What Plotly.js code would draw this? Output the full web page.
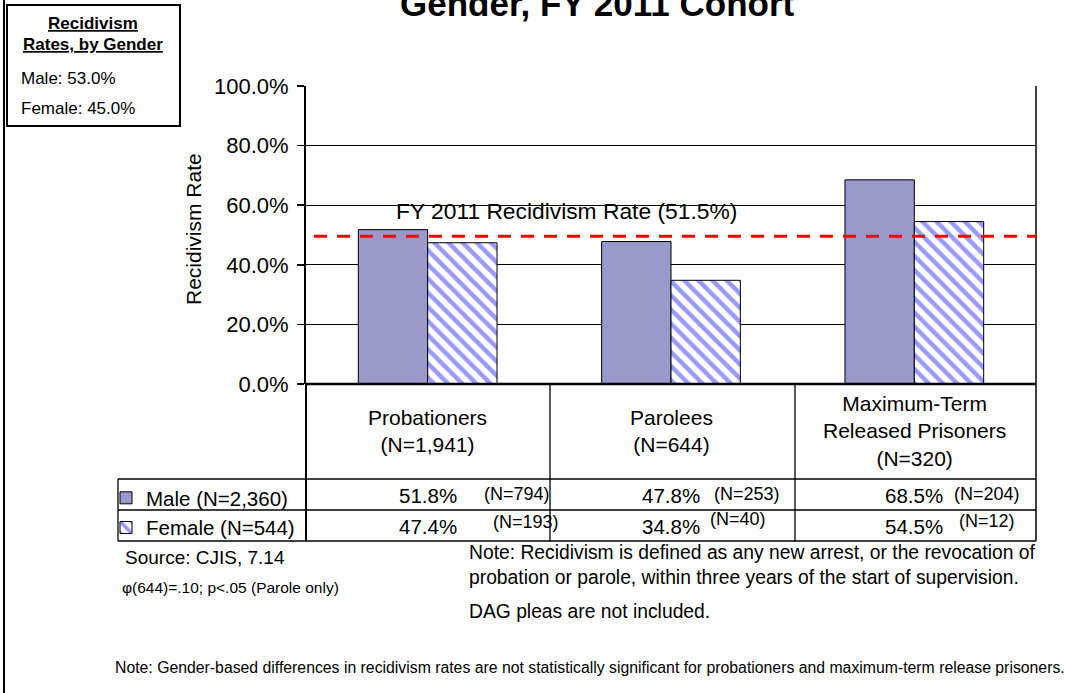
<!DOCTYPE html>
<html>
<head>
<meta charset="utf-8">
<script src="https://cdn.plot.ly/plotly-3.0.1.min.js"></script>
<style>html,body{margin:0;padding:0;background:#fff;}#chart{width:1067px;height:693px;}</style>
</head>
<body>
<div id="chart"></div>
<script>
// ---- data ----
const categories = ['Probationers', 'Parolees', 'Maximum-Term Released Prisoners'];
const categoryLabels = ['Probationers<br>(N=1,941)', 'Parolees<br>(N=644)', 'Maximum-Term<br>Released Prisoners<br>(N=320)'];
const seriesNames = ['Male (N=2,360)', 'Female (N=544)'];
const maleRates = [51.8, 47.8, 68.5];
const femaleRates = [47.4, 34.8, 54.5];
const maleN = ['(N=794)', '(N=253)', '(N=204)'];
const femaleN = ['(N=193)', '(N=40)', '(N=12)'];
const overallRate = 49.6;
const overallLabel = 'FY 2011 Recidivism Rate (51.5%)';
const yTicks = [0, 20, 40, 60, 80, 100];
const yTickLabels = ['0.0%', '20.0%', '40.0%', '60.0%', '80.0%', '100.0%'];
const summaryTitle = ['Recidivism', 'Rates, by Gender'];
const summaryLines = ['Male: 53.0%', 'Female: 45.0%'];
const chartTitle = 'Gender, FY 2011 Cohort';
const sourceText = 'Source: CJIS, 7.14';
const statText = '\u03c6(644)=.10; p<.05 (Parole only)';
const noteLines = ['Note: Recidivism is defined as any new arrest, or the revocation of',
                   'probation or parole, within three years of the start of supervision.'];
const dagText = 'DAG pleas are not included.';
const bottomNote = 'Note: Gender-based differences in recidivism rates are not statistically significant for probationers and maximum-term release prisoners.';

// ---- layout helpers (pixel -> paper) ----
const L = 306, R = 1036, T = 86, B = 384;
const X = px => (px - L) / (R - L);
const Y = py => (B - py) / (B - T);
const FONT = 'Liberation Sans, Arial, Helvetica, sans-serif';

const traces = [
  {type: 'bar', name: seriesNames[0], x: categories, y: maleRates,
   marker: {color: '#9999cc', line: {color: '#000', width: 1}}, hoverinfo: 'skip'},
  {type: 'bar', name: seriesNames[1], x: categories, y: femaleRates,
   marker: {color: '#ffffff', line: {color: '#000', width: 1},
            pattern: {shape: '\\', fgcolor: '#9999ff', bgcolor: '#ffffff', size: 10, solidity: 0.45, fillmode: 'replace'}},
   hoverinfo: 'skip'}
];

const line = (x0, y0, x1, y1, w) => ({type: 'line', xref: 'paper', yref: 'paper',
  x0: X(x0), y0: Y(y0), x1: X(x1), y1: Y(y1), line: {color: '#000', width: w || 1.3}, layer: 'above'});

const shapes = [
  line(4, 0, 4, 693, 2),
  {type: 'rect', xref: 'paper', yref: 'paper', x0: X(7), x1: X(180), y0: Y(5), y1: Y(126),
   line: {color: '#000', width: 2}, fillcolor: 'rgba(0,0,0,0)'},
  line(R, T, R, 541, 1.5),
  line(L, B, L, 541, 2),
  line(L, B, R, B, 2.5),
  line(118, 479, R, 479, 1.3),
  line(118, 510, R, 510, 1.3),
  line(118, 541, R, 541, 1.5),
  line(118, 479, 118, 541, 1.3),
  line(550, B, 550, 541, 1.3),
  line(795, B, 795, 541, 1.3),
  {type: 'line', xref: 'paper', yref: 'y', x0: X(314), x1: 1, y0: overallRate, y1: overallRate,
   line: {color: '#ff0000', width: 3, dash: '13px,10px'}, layer: 'above'}
];

const ann = [];
const txt = (text, px, py, size, opts) => Object.assign({xref: 'paper', yref: 'paper', x: X(px), y: Y(py),
  text: text, showarrow: false, font: {family: FONT, size: size, color: '#000'}, xanchor: 'left', yanchor: 'middle'}, opts || {});

ann.push(txt('<b>' + chartTitle + '</b>', 597, 3, 35, {xanchor: 'center'}));
ann.push(txt('<b><u>' + summaryTitle[0] + '</u></b>', 93, 24, 17, {xanchor: 'center'}));
ann.push(txt('<b><u>' + summaryTitle[1] + '</u></b>', 93, 45, 17, {xanchor: 'center'}));
ann.push(txt(summaryLines[0], 19, 78, 17));
ann.push(txt(summaryLines[1], 19, 108, 17));
ann.push(txt(overallLabel, 566, 211, 22.8, {xanchor: 'center'}));
categories.forEach((c, i) => {
  ann.push({xref: 'x', yref: 'paper', x: c, y: Y(431), text: categoryLabels[i], showarrow: false,
            font: {family: FONT, size: 21, color: '#000'}, xanchor: 'center', yanchor: 'middle', align: 'center'});
});
const maleNShift = [54, 41, 38], femaleNShift = [63, 37, 43], femaleNRaise = [3, 6, 4];
categories.forEach((c, i) => {
  ann.push({xref: 'x', yref: 'paper', x: c, y: Y(495), xshift: 31, text: maleRates[i].toFixed(1) + '%',
            showarrow: false, font: {family: FONT, size: 20.5, color: '#000'}, xanchor: 'right', yanchor: 'middle'});
  ann.push({xref: 'x', yref: 'paper', x: c, y: Y(526), xshift: 31, text: femaleRates[i].toFixed(1) + '%',
            showarrow: false, font: {family: FONT, size: 20.5, color: '#000'}, xanchor: 'right', yanchor: 'middle'});
  ann.push({xref: 'x', yref: 'paper', x: c, y: Y(494), xshift: maleNShift[i], text: maleN[i],
            showarrow: false, font: {family: FONT, size: 18, color: '#000'}, xanchor: 'left', yanchor: 'middle'});
  ann.push({xref: 'x', yref: 'paper', x: c, y: Y(525 - femaleNRaise[i]), xshift: femaleNShift[i], text: femaleN[i],
            showarrow: false, font: {family: FONT, size: 18, color: '#000'}, xanchor: 'left', yanchor: 'middle'});
});
ann.push(txt(sourceText, 123, 557, 19));
ann.push(txt(statText, 120, 587, 15.5));
ann.push(txt(noteLines[0], 467, 552, 19.3));
ann.push(txt(noteLines[1], 467, 577, 19.3));
ann.push(txt(dagText, 467, 611, 19.3));
ann.push(txt(bottomNote, 590, 667, 15.8, {xanchor: 'center'}));
// y axis title
ann.push(txt('Recidivism Rate', 193, 229, 21, {xanchor: 'center', textangle: -90}));

const layout = {
  width: 1067, height: 693,
  margin: {l: L, r: 1067 - R, t: T, b: 693 - B},
  paper_bgcolor: '#fff', plot_bgcolor: '#fff',
  font: {family: FONT, color: '#000'},
  barmode: 'group', bargap: 0.43, bargroupgap: 0,
  showlegend: true,
  legend: {x: X(106), y: Y(478), xanchor: 'left', yanchor: 'top', bgcolor: 'rgba(0,0,0,0)',
           font: {family: FONT, size: 20.5, color: '#000'}, tracegroupgap: 0, itemwidth: 30},
  xaxis: {type: 'category', range: [-0.5, 2.5], showticklabels: false, ticks: '', showgrid: false,
          zeroline: false, showline: false, fixedrange: true},
  yaxis: {range: [0, 100], tickmode: 'array', tickvals: yTicks, ticktext: yTickLabels,
          ticks: 'outside', ticklen: 7, tickwidth: 1.5, tickcolor: '#000', ticklabelstandoff: 4,
          showline: true, linecolor: '#000', linewidth: 2,
          showgrid: true, gridcolor: '#000', gridwidth: 1.3, zeroline: false,
          tickfont: {family: FONT, size: 22, color: '#000'},
          fixedrange: true},
  shapes: shapes,
  annotations: ann
};

Plotly.newPlot('chart', traces, layout, {displayModeBar: false, staticPlot: true});
</script>
</body>
</html>
